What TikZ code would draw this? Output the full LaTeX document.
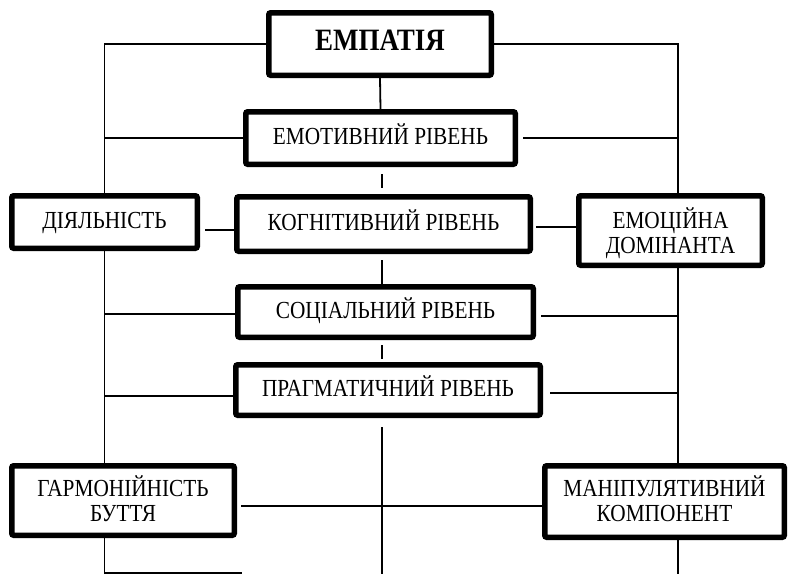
\documentclass[tikz,border=0pt]{standalone}
\usepackage{fontspec}
\usepackage{graphicx}
\setmainfont{Liberation Serif}
\newcommand\vtxt[2][0pt]{\raisebox{#1}[\height][\depth]{\scalebox{1}[1.15]{\begin{tabular}{@{}c@{}}#2\end{tabular}}}}
\begin{document}
\begin{tikzpicture}[x=1pt,y=-1pt,
  box/.style={draw, line width=5.5pt, rounded corners=2pt, align=center, inner sep=0pt,
    font=\fontsize{21.3}{21.7}\selectfont},
  link/.style={line width=1.8pt}]
\useasboundingbox (0,0) rectangle (789,574);
% boxes (outer size minus line width)
\node[box, minimum width=222.5pt, minimum height=62.5pt, font=\bfseries\fontsize{27}{30}\selectfont] (emp) at (380,44) {\vtxt{ЕМПАТІЯ}};
\node[box, minimum width=269.5pt, minimum height=52.5pt] (emot) at (380.5,138) {\vtxt{ЕМОТИВНИЙ РІВЕНЬ}};
\node[box, minimum width=293.5pt, minimum height=54.5pt] (kog) at (383.5,224) {\vtxt{КОГНІТИВНИЙ РІВЕНЬ}};
\node[box, minimum width=295.5pt, minimum height=50.5pt] (soc) at (385.5,312) {\vtxt{СОЦІАЛЬНИЙ РІВЕНЬ}};
\node[box, minimum width=304.5pt, minimum height=50.5pt] (prag) at (388,390) {\vtxt{ПРАГМАТИЧНИЙ РІВЕНЬ}};
\node[box, minimum width=185.5pt, minimum height=52.5pt] (diya) at (104.5,222) {\vtxt[-2pt]{ДІЯЛЬНІСТЬ}};
\node[box, minimum width=183.5pt, minimum height=69.5pt] (emoc) at (670.5,230.5) {\vtxt[-4pt]{ЕМОЦІЙНА\\ДОМІНАНТА}};
\node[box, minimum width=222.5pt, minimum height=69.5pt] (harm) at (123,500.5) {\vtxt[-2pt]{ГАРМОНІЙНІСТЬ\\БУТТЯ}};
\node[box, minimum width=239.5pt, minimum height=71.5pt] (man) at (664.5,501.5) {\vtxt[-1pt]{МАНІПУЛЯТИВНИЙ\\КОМПОНЕНТ}};
% rails and helper coordinates
\coordinate (ll) at (104.5,0);
\coordinate (rr) at (678,0);
\coordinate (bot) at (0,573);
\coordinate (mid) at (382,574);
% top connections
\draw[link] (emp.west) -- (emp.west -| ll) -- (diya.north -| ll);
\draw[link] (emp.east) -- (emp.east -| rr) -- (emoc.north -| rr);
\draw[link] (emp.south) -- (emot.north);
% emotive level
\draw[link] (emot.west) -- (emot.west -| ll);
\draw[link, shorten <=5pt] (emot.east) -- (emot.east -| rr);
% vertical stems in the middle column
\draw[link, shorten <=7pt, shorten >=6pt] (emot.south -| mid) -- (kog.north -| mid);
\draw[link, shorten <=6pt] (kog.south -| mid) -- (soc.north -| mid);
\draw[link, shorten <=5pt, shorten >=3pt] (soc.south -| mid) -- (prag.north -| mid);
\draw[link, shorten <=9pt] (prag.south -| mid) -- (mid);
% cognitive level
\coordinate (ky) at (0,230);
\coordinate (ky2) at (0,227);
\draw[link, shorten <=5pt] (diya.east |- ky) -- (kog.west |- ky);
\draw[link, shorten <=3pt] (kog.east |- ky2) -- (emoc.west |- ky2);
% social level
\coordinate (sy) at (0,314);
\coordinate (sy2) at (0,316);
\draw[link] (soc.west |- sy) -- (ll |- sy);
\draw[link, shorten <=5pt] (soc.east |- sy2) -- (rr |- sy2);
% pragmatic level
\coordinate (py) at (0,396);
\coordinate (py2) at (0,393);
\draw[link] (prag.west |- py) -- (ll |- py);
\draw[link, shorten <=7pt] (prag.east |- py2) -- (rr |- py2);
% left rail
\draw[link] (diya.south -| ll) -- (harm.north -| ll);
\draw[link] (harm.south -| ll) -- (ll |- bot) -- (242,573);
% right rail
\draw[link] (emoc.south -| rr) -- (man.north -| rr);
\draw[link] (man.south -| rr) -- (rr |- mid);
% bottom horizontal
\coordinate (hy) at (0,506);
\draw[link, shorten <=4pt] (harm.east |- hy) -- (man.west |- hy);
\end{tikzpicture}
\end{document}
